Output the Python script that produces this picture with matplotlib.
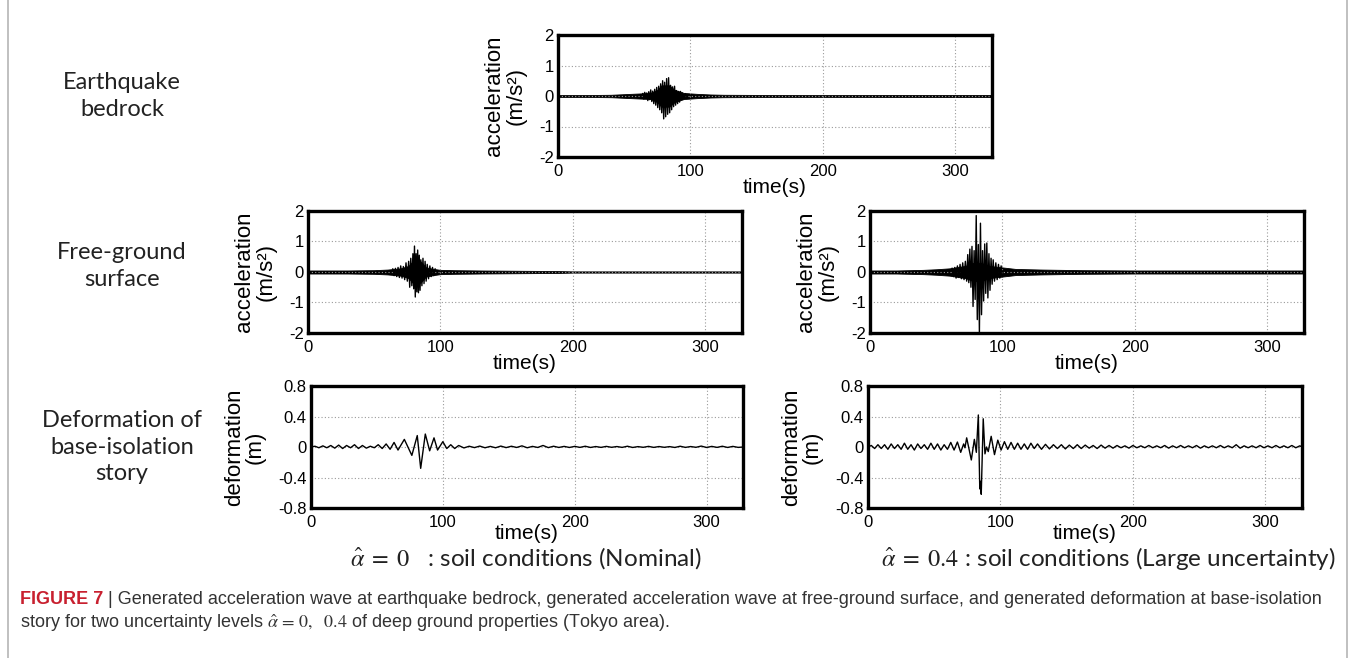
import matplotlib
matplotlib.use("Agg")
import matplotlib.pyplot as plt
from matplotlib.patches import Rectangle

plt.rcParams["font.family"] = ["Liberation Sans", "DejaVu Sans"]
plt.rcParams["axes.unicode_minus"] = False

# ---- data (time in s) ----
# bedrock acceleration: noise envelope (half-width) + burst peaks
TOP_BAND_T = [0, 20, 40, 50, 60, 70, 75, 78, 84, 88, 95, 105, 115, 125, 150, 200, 250, 300, 328]
TOP_BAND_A = [0.03, 0.03, 0.04, 0.06, 0.08, 0.1, 0.2, 0.35, 0.35, 0.2, 0.1, 0.07, 0.05, 0.04,
              0.035, 0.03, 0.035, 0.035, 0.035]
TOP_SPIKE_T = [64, 64.8, 65.5, 66.3, 67, 67.8, 68.5, 69.3, 70, 70.8,
               71.5, 72.3, 73, 73.8, 74.5, 75.3, 76, 76.8, 77.5, 78.3,
               79, 79.8, 80.5, 81.3, 82, 82.8, 83.5, 84.3, 85, 85.8,
               86.5, 87.3, 88, 88.8, 89.5, 90.3, 91, 91.8, 92.5, 93.3,
               94, 95, 96, 97]
TOP_SPIKE_V = [0.08, -0.1, 0.12, -0.08, 0.1, -0.15, 0.14, -0.12, 0.2, -0.18,
               0.16, -0.25, 0.22, -0.3, 0.28, -0.38, 0.32, -0.45, 0.4, -0.55,
               0.5, -0.75, 0.45, -0.68, 0.57, -0.6, 0.6, -0.55, 0.35, -0.45,
               0.3, -0.35, 0.32, -0.3, 0.18, -0.25, 0.15, -0.2, 0.15, -0.12,
               0.1, -0.1, 0.08, -0.06]

# free-ground acceleration, alpha = 0
ML_BAND_T = [0, 30, 50, 60, 70, 76, 79, 85, 89, 95, 100, 110, 130, 160, 190, 200, 250, 328]
ML_BAND_A = [0.05, 0.05, 0.06, 0.08, 0.12, 0.2, 0.35, 0.35, 0.15, 0.1, 0.07, 0.06, 0.05, 0.04,
             0.03, 0.02, 0.02, 0.02]
ML_SPIKE_T = [64, 65, 66, 67, 68, 69, 70, 71, 72, 73,
              74, 75, 76, 76.8, 77.6, 78.4, 79.2, 79.8, 80.4, 81,
              81.6, 82.2, 82.8, 83.4, 84, 84.6, 85.2, 86, 86.8, 87.6,
              88.4, 89.2, 90, 91, 92, 93, 94, 95, 96]
ML_SPIKE_V = [0.1, -0.12, 0.12, -0.15, 0.15, -0.18, 0.2, -0.2, 0.18, -0.25,
              0.3, -0.3, 0.35, -0.5, 0.45, -0.45, 0.6, -0.55, 0.85, -0.82,
              0.6, -0.65, 0.72, -0.68, 0.55, -0.6, 0.4, -0.45, 0.45, -0.38,
              0.35, -0.3, 0.25, -0.22, 0.2, -0.15, 0.15, -0.12, 0.1]

# free-ground acceleration, alpha = 0.4
MR_BAND_T = [0, 20, 40, 50, 60, 72, 78, 84, 90, 100, 110, 130, 160, 200, 250, 328]
MR_BAND_A = [0.05, 0.05, 0.07, 0.09, 0.12, 0.2, 0.3, 0.3, 0.2, 0.15, 0.1, 0.08, 0.06, 0.05,
             0.05, 0.05]
MR_SPIKE_T = [62, 63, 64, 65, 66, 67, 68, 69, 70, 71,
              72, 73, 73.8, 74.6, 75.4, 76.2, 77, 77.8, 78.6, 79.4,
              80.2, 81, 81.8, 82.6, 83.4, 84.2, 85, 85.8, 86.6, 87.4,
              88.2, 89, 89.8, 90.6, 91.4, 92.2, 93, 94, 95, 96,
              97, 98, 99, 100]
MR_SPIKE_V = [0.12, -0.15, 0.15, -0.2, 0.2, -0.18, 0.25, -0.22, 0.3, -0.25,
              0.35, -0.3, 0.57, -0.35, 0.75, -0.5, 0.84, -1.13, 0.7, -0.9,
              1.85, -1.56, 0.9, -2.0, 1.6, -1.4, 0.7, -0.95, 0.92, -0.7,
              0.95, -0.85, 0.6, -0.6, 0.45, -0.4, 0.4, -0.3, 0.3, -0.25,
              0.25, -0.2, 0.2, -0.15]

# base-isolation deformation, alpha = 0 (extremes of the wiggles)
DL_T = [0, 3, 6, 9, 12, 15, 18, 21, 24, 27, 30, 33, 36, 39, 42, 45, 48, 51, 54, 57, 60, 63,
        66, 70.8, 76.5, 80.6, 83.2, 86.7, 90, 93.3, 96, 100, 103, 106, 109, 112,
        116, 120, 124, 128, 132, 136, 140, 144, 148, 152,
        156, 160, 164, 168, 172, 176, 180, 184, 188, 192,
        196, 200, 204, 208, 212, 216, 220, 224, 228, 232,
        236, 240, 244, 248, 252, 256, 260, 264, 268, 272,
        276, 280, 284, 288, 292, 296, 300, 304, 308, 312,
        316, 320, 324, 328]
DL_V = [0, 0.01, -0.01, 0.015, -0.01, 0.02, -0.015, 0.025, -0.02, 0.02,
        -0.01, 0.03, -0.02, 0.02, -0.015, 0.01, -0.01, 0.03, -0.02, 0.04, -0.03, 0.06,
        -0.04, 0.1, -0.11, 0.15, -0.28, 0.17, -0.05, 0.12, -0.04, 0.07, -0.02, 0.03, -0.02, 0.02,
        -0.012, 0.01, -0.008, 0.012, -0.01, 0.008, -0.01, 0.012, -0.008, 0.01,
        -0.006, 0.015, -0.01, 0.008, -0.006, 0.02, -0.008, 0.01, -0.006, 0.008,
        -0.006, 0.008, -0.005, 0.01, -0.006, 0.006, -0.005, 0.008, -0.004, 0.006,
        -0.005, 0.01, -0.006, 0.005, -0.004, 0.008, -0.005, 0.006, -0.004, 0.005,
        -0.006, 0.01, -0.005, 0.006, -0.004, 0.012, -0.006, 0.008, -0.005, 0.01,
        -0.006, 0.008, -0.005, 0.0]

# base-isolation deformation, alpha = 0.4
DR_T = [0, 2.5, 5, 7.5, 10, 12.5, 15, 17.5, 20, 22.5, 25, 27.5, 30, 32.5, 35, 37.5,
        40, 42.5, 45, 47.5, 50, 52.5, 55, 57.5, 60, 62.5, 65,
        67.5, 70, 72.2, 73.2, 74.5, 78, 80.3, 81.8, 83.3, 84.4,
        84.9, 85.5, 87, 88.3, 89.5, 90.8, 93, 95.5, 98, 100.5,
        103, 105.5, 108, 110.5, 113, 115.5, 118, 120.5, 123, 125.5,
        128, 131, 134, 137, 140, 143, 146, 149, 152, 155,
        158, 161, 164, 167, 170, 173, 176, 179, 182, 185,
        188, 191, 194, 197, 200, 203, 206, 209, 212, 215,
        218, 221, 224, 227, 230, 233, 236, 239, 242, 245,
        248, 251, 254, 257, 260, 263, 266, 269, 272, 275,
        278, 281, 284, 287, 290, 293, 296, 299, 302, 305,
        308, 311, 314, 317, 320, 323, 326, 328]
DR_V = [0, 0.02, -0.02, 0.03, -0.02, 0.03, -0.03, 0.04, -0.02, 0.03,
        -0.03, 0.05, -0.03, 0.03, -0.04, 0.04, -0.02, 0.03, -0.03, 0.05,
        -0.03, 0.04, -0.04, 0.03, -0.03, 0.06, -0.04,
        0.065, -0.07, 0.04, -0.01, 0.12, -0.17, 0.1, -0.07, 0.42, -0.55,
        -0.45, -0.62, 0.37, -0.09, 0.0, -0.06, 0.14, -0.1, 0.09, -0.04,
        0.07, -0.03, 0.06, -0.03, 0.05, -0.03, 0.04, -0.03, 0.05, -0.02,
        0.04, -0.03, 0.035, -0.025, 0.03, -0.02, 0.03, -0.025, 0.025, -0.02,
        0.03, -0.02, 0.025, -0.015, 0.02, -0.02, 0.025, -0.015, 0.02, -0.015,
        0.02, -0.01, 0.015, -0.015, 0.02, -0.01, 0.015, -0.01, 0.02, -0.01,
        0.015, -0.01, 0.02, -0.015, 0.015, -0.01, 0.02, -0.01, 0.015, -0.01,
        0.02, -0.015, 0.015, -0.01, 0.015, -0.01, 0.02, -0.01, 0.015, -0.01,
        0.03, -0.015, 0.015, -0.01, 0.015, -0.01, 0.02, -0.01, 0.015, -0.01,
        0.02, -0.01, 0.015, -0.01, 0.02, -0.01, 0.015, 0.0]

ROW_LABELS = ["Earthquake\nbedrock", "Free-ground\nsurface", "Deformation of\nbase-isolation\nstory"]
CASE_LABELS = [r"$\hat{\alpha}\;=\;0$   : soil conditions (Nominal)",
               r"$\hat{\alpha}\;=\;0.4$ : soil conditions (Large uncertainty)"]
T_MAX = 327.68
ACC_TICKS = [-2, -1, 0, 1, 2]
DEF_TICKS = [-0.8, -0.4, 0, 0.4, 0.8]
DEF_TICKLABELS = ["-0.8", "-0.4", "0", "0.4", "0.8"]

W, H = 1356, 658
fig = plt.figure(figsize=(W / 100, H / 100), dpi=100)


def px_axes(x0, x1, y0, y1):
    return fig.add_axes([x0 / W, 1 - y1 / H, (x1 - x0) / W, (y1 - y0) / H])


def style(ax, ylabel, yticks, yticklabels=None, xlabelpad=-1):
    ax.set_xlim(0, T_MAX)
    ax.set_xticks([0, 100, 200, 300])
    ax.set_yticks(yticks)
    if yticklabels:
        ax.set_yticklabels(yticklabels)
    ax.set_ylim(yticks[0], yticks[-1])
    ax.grid(True, linestyle=(0, (1, 2)), color="#9a9a9a", linewidth=0.8)
    for s in ax.spines.values():
        s.set_linewidth(2.4)
    ax.tick_params(direction="in", length=0, labelsize=12, pad=3)
    ax.tick_params(axis="x", pad=5)
    ax.set_xlabel("time(s)", fontsize=15, labelpad=xlabelpad)
    ax.set_ylabel(ylabel, fontsize=16, linespacing=1.0, labelpad=9)


def draw_acc(ax, bt, ba, st, sv):
    ax.fill_between(bt, [-a for a in ba], ba, color="black", linewidth=0.6)
    ax.plot(st, sv, color="black", linewidth=1.0)
    style(ax, "acceleration\n(m/s²)", ACC_TICKS)


def draw_def(ax, t, v):
    ax.plot(t, v, color="black", linewidth=1.0)
    style(ax, "deformation\n(m)", DEF_TICKS, DEF_TICKLABELS, xlabelpad=-4)


ax_top = px_axes(558, 992, 35, 157)
draw_acc(ax_top, TOP_BAND_T, TOP_BAND_A, TOP_SPIKE_T, TOP_SPIKE_V)
ax_ml = px_axes(308, 742, 211, 333)
draw_acc(ax_ml, ML_BAND_T, ML_BAND_A, ML_SPIKE_T, ML_SPIKE_V)
ax_mr = px_axes(870, 1304, 211, 333)
draw_acc(ax_mr, MR_BAND_T, MR_BAND_A, MR_SPIKE_T, MR_SPIKE_V)
ax_bl = px_axes(311, 743, 386, 508)
draw_def(ax_bl, DL_T, DL_V)
ax_br = px_axes(868, 1302, 386, 508)
draw_def(ax_br, DR_T, DR_V)

# row labels on the left
for label, yc in zip(ROW_LABELS, [96, 266, 447]):
    fig.text(122 / W, 1 - yc / H, label, ha="center", va="center", fontsize=17,
             family=["Lato", "DejaVu Sans"], color="#222222", linespacing=1.35)

# case labels under the bottom row
for label, xc in zip(CASE_LABELS, [526, 1108]):
    fig.text(xc / W, 1 - 558 / H, label, ha="center", va="center", fontsize=17.5,
             family=["Lato", "DejaVu Sans"], color="#222222", math_fontfamily="stix")

# outer frame of the figure panel
fig.patches.append(Rectangle((8 / W, -0.02), (1347 - 8) / W, 1.04, transform=fig.transFigure,
                             fill=False, edgecolor="#b5b5b5", linewidth=1.2))

# caption
cap_color = "#333333"
t1 = fig.text(20 / W, 1 - 599 / H, "FIGURE 7", ha="left", va="center", fontsize=13,
              fontweight="bold", color="#c8202f")
fig.canvas.draw()
bb = t1.get_window_extent(renderer=fig.canvas.get_renderer())
fig.text(bb.x1 / W, 1 - 599 / H,
         " | Generated acceleration wave at earthquake bedrock, generated acceleration wave at "
         "free-ground surface, and generated deformation at base-isolation",
         ha="left", va="center", fontsize=13, color=cap_color)
fig.text(20 / W, 1 - 623 / H,
         r"story for two uncertainty levels $\hat{\alpha}\,=\,0,\ \ 0.4$ of deep ground properties (Tokyo area).",
         ha="left", va="center", fontsize=13, color=cap_color, math_fontfamily="stix")

fig.savefig("out.png", dpi=100)
